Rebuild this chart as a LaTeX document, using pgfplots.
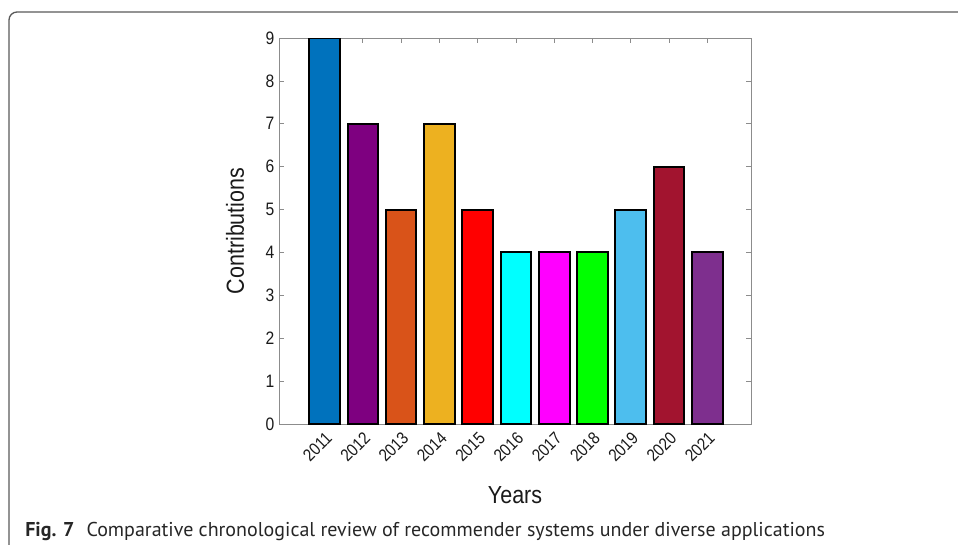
\documentclass[border=0pt]{standalone}
\usepackage{pgfplots}
\pgfplotsset{compat=1.18}
\usepackage{fontspec}
\setmainfont{Liberation Sans}[FakeStretch=0.87]
\newfontfamily\capfont{PT Sans}
\definecolor{c2011}{HTML}{0072BD}
\definecolor{c2012}{HTML}{7E0080}
\definecolor{c2013}{HTML}{D95319}
\definecolor{c2014}{HTML}{EDB120}
\definecolor{c2015}{HTML}{FF0000}
\definecolor{c2016}{HTML}{00FFFF}
\definecolor{c2017}{HTML}{FF00FF}
\definecolor{c2018}{HTML}{00FF00}
\definecolor{c2019}{HTML}{4DBEEE}
\definecolor{c2020}{HTML}{A2142F}
\definecolor{c2021}{HTML}{7E2F8E}
\definecolor{axgray}{HTML}{8C8C8C}
\definecolor{txt}{HTML}{1A1A1A}
\pgfplotsset{bb/.style={fill=#1, draw=black, line width=1.5pt}}
\begin{document}
\begin{tikzpicture}
\useasboundingbox (0,0) rectangle (718.5pt,408pt);
\begin{scope}
  \clip (0,0) rectangle (718.5pt,408pt);
  \draw[line width=1pt, black!65, rounded corners=6pt] (6.75pt,-20pt) rectangle (740pt,399pt);
\end{scope}
\begin{axis}[
    at={(209.25pt,90pt)}, anchor=south west,
    scale only axis,
    width=354pt, height=289.5pt,
    xmin=-0.19, xmax=12.14,
    ymin=0, ymax=9,
    ybar, bar width=0.8, bar shift=0pt,
    xtick={1,...,11},
    xticklabels={2011,2012,2013,2014,2015,2016,2017,2018,2019,2020,2021},
    ytick={0,...,9},
    tick align=inside,
    major tick length=4pt,
    axis line style={axgray, line width=0.6pt},
    every tick/.style={axgray, line width=0.6pt},
    tick label style={font=\fontsize{13.5}{15}\selectfont, text=txt},
    /pgf/number format/assume math mode=true,
    x tick label style={rotate=45, anchor=north east, font=\fontsize{13}{14}\selectfont, text=txt},
    xlabel={Years},
    ylabel={Contributions},
    label style={font=\fontsize{18.5}{20}\selectfont, text=txt},
    xlabel style={at={(axis description cs:0.5,-0.184)}, anchor=center},
    ylabel style={at={(axis description cs:-0.0932,0.5)}, anchor=center},
  ]
  \addplot[bb=c2011] coordinates {(1,9)};
  \addplot[bb=c2012] coordinates {(2,7)};
  \addplot[bb=c2013] coordinates {(3,5)};
  \addplot[bb=c2014] coordinates {(4,7)};
  \addplot[bb=c2015] coordinates {(5,5)};
  \addplot[bb=c2016] coordinates {(6,4)};
  \addplot[bb=c2017] coordinates {(7,4)};
  \addplot[bb=c2018] coordinates {(8,4)};
  \addplot[bb=c2019] coordinates {(9,5)};
  \addplot[bb=c2020] coordinates {(10,6)};
  \addplot[bb=c2021] coordinates {(11,4)};
\end{axis}
\node[anchor=base west, inner sep=0pt, font=\capfont\fontsize{15}{17}\selectfont, text=black!85]
  at (18.75pt,6pt) {\textbf{Fig. 7}\hspace{0.6em}Comparative chronological review of recommender systems under diverse applications};
\end{tikzpicture}
\end{document}
